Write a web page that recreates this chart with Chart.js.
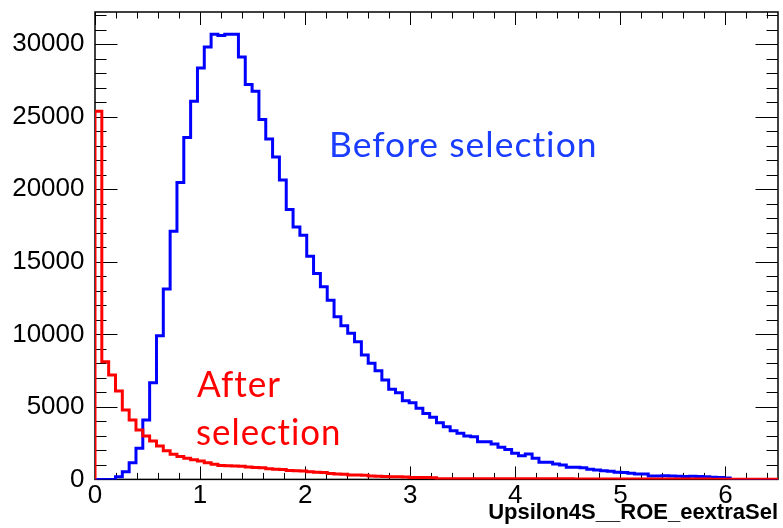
<!DOCTYPE html>
<html><head><meta charset="utf-8">
<script src="https://cdn.jsdelivr.net/npm/chart.js@4/dist/chart.umd.min.js"></script>
<style>html,body{margin:0;padding:0;background:#fff;}canvas{display:block;}</style>
</head><body>
<canvas id="c" width="783" height="528"></canvas>
<script>
// ---- data ----
const binWidth = 0.065;           // 100 bins from 0 to 6.5
const xMax = 6.5;
const yMax = 32225;
const xTickLabels = ['0', '1', '2', '3', '4', '5', '6'];
const yTickLabels = ['0', '5000', '10000', '15000', '20000', '25000', '30000'];
const axisTitle = 'Upsilon4S__ROE_eextraSel';
const labelBefore = 'Before selection';
const labelAfter = ['After', 'selection'];

const beforeSel = [
  0, 0, 0, 190, 530, 1150, 2140, 4090, 6660, 9900,
  13120, 17110, 20470, 23570, 26070, 28370, 29810, 30690, 30600, 30690,
  30690, 29120, 27220, 26760, 24810, 23470, 22230, 20650, 18610, 17410,
  16840, 15390, 14200, 13280, 12360, 11210, 10590, 10070, 9490, 8570,
  8000, 7490, 6850, 6210, 5970, 5420, 5280, 4900, 4550, 4280,
  3910, 3630, 3360, 3180, 2990, 2940, 2600, 2600, 2440, 2210,
  2070, 1800, 1630, 1750, 1450, 1180, 1180, 1060, 990, 830,
  840, 800, 700, 640, 600, 560, 500, 480, 420, 370,
  370, 230, 230, 260, 240, 220, 200, 210, 200, 180,
  150, 130, 90, 0, 0, 0, 0, 0, 0, 0
];
const afterSel = [
  25380, 8110, 7190, 6090, 4780, 4090, 3400, 2990, 2650, 2300,
  1980, 1730, 1580, 1460, 1360, 1260, 1150, 1040, 960, 940,
  920, 900, 850, 820, 800, 730, 700, 680, 620, 600,
  580, 520, 490, 470, 400, 370, 350, 310, 300, 280,
  230, 210, 200, 190, 180, 170, 130, 130, 130, 120,
  50, 50, 50, 50, 50, 50, 50, 50, 50, 50,
  40, 40, 40, 40, 40, 40, 40, 40, 40, 40,
  30, 30, 30, 30, 30, 30, 30, 30, 30, 30,
  20, 20, 20, 20, 20, 20, 20, 20, 20, 20,
  10, 10, 10, 10, 10, 10, 10, 10, 10, 10
];

// histogram outline points: left edge of each bin, closed on both ends
function histPoints(vals) {
  const pts = [{x: 0, y: 0}];
  vals.forEach((v, i) => pts.push({x: i * binWidth, y: v}));
  pts.push({x: vals.length * binWidth, y: vals[vals.length - 1]});
  return pts;
}

const frameTicks = {
  id: 'frameTicks',
  beforeDatasetsDraw(chart) {
    const {ctx, chartArea: a, scales: {x, y}} = chart;
    ctx.save();
    ctx.strokeStyle = '#000';
    ctx.lineWidth = 1;
    ctx.beginPath();
    for (let k = 0; k * 0.2 <= xMax + 1e-9; k++) {
      const px = Math.round(x.getPixelForValue(k * 0.2)) + 0.5;
      const len = (k % 5 === 0) ? 13 : 6.5;
      ctx.moveTo(px, a.bottom); ctx.lineTo(px, a.bottom - len);
      ctx.moveTo(px, a.top); ctx.lineTo(px, a.top + len);
    }
    for (let k = 0; k * 1000 <= yMax; k++) {
      const py = Math.round(y.getPixelForValue(k * 1000)) + 0.5;
      const len = (k % 5 === 0) ? 22.5 : 11.5;
      ctx.moveTo(a.left, py); ctx.lineTo(a.left + len, py);
      ctx.moveTo(a.right, py); ctx.lineTo(a.right - len, py);
    }
    ctx.stroke();
    ctx.lineWidth = 1.5;
    ctx.strokeRect(a.left, a.top, a.right - a.left, a.bottom - a.top);
    ctx.restore();
  },
  afterDraw(chart) {
    const {ctx} = chart;
    function fitText(text, left, baseline, inkWidth, font, color) {
      ctx.save();
      ctx.font = font;
      ctx.fillStyle = color;
      ctx.textBaseline = 'alphabetic';
      ctx.textAlign = 'left';
      if ('letterSpacing' in ctx) ctx.letterSpacing = '1px';
      const m = ctx.measureText(text);
      const w = m.actualBoundingBoxRight + m.actualBoundingBoxLeft;
      const s = inkWidth / w;
      ctx.translate(left + m.actualBoundingBoxLeft * s, baseline);
      ctx.scale(s, 1);
      ctx.fillText(text, 0, 0);
      ctx.restore();
    }
    fitText(labelBefore, 332, 157, 263, '35px Lato', '#1a3dff');
    fitText(labelAfter[0], 197, 396.5, 83, '36px Lato', '#ff0000');
    fitText(labelAfter[1], 197, 445, 141.5, '36px Lato', '#ff0000');
  }
};

new Chart(document.getElementById('c').getContext('2d'), {
  type: 'line',
  data: {
    datasets: [
      {label: 'After selection', data: histPoints(afterSel), borderColor: '#ff0000',
       borderWidth: 3, stepped: 'before', pointRadius: 0, fill: false, order: 0},
      {label: 'Before selection', data: histPoints(beforeSel), borderColor: '#0000ff',
       borderWidth: 3, stepped: 'before', pointRadius: 0, fill: false, order: 1}
    ]
  },
  options: {
    responsive: false,
    animation: false,
    devicePixelRatio: 1,
    layout: {padding: {top: 12, right: 5, left: 0, bottom: 0}},
    plugins: {legend: {display: false}, tooltip: {enabled: false}},
    scales: {
      x: {
        type: 'linear', min: 0, max: xMax,
        grid: {display: false, drawTicks: false},
        border: {display: false},
        afterBuildTicks: s => { s.ticks = xTickLabels.map(t => ({value: Number(t)})); },
        afterFit: s => { s.height = 48.6; s.paddingLeft = 0; s.paddingRight = 0; },
        ticks: {autoSkip: false, maxRotation: 0, padding: 1, color: '#000',
                font: {family: 'Liberation Sans', size: 26},
                callback: v => String(v)},
        title: {display: true, text: axisTitle, align: 'end', color: '#000',
                font: {family: 'Liberation Sans', size: 22, weight: 'bold'},
                padding: {top: 0, bottom: 2}}
      },
      y: {
        type: 'linear', min: 0, max: yMax,
        grid: {display: false, drawTicks: false},
        border: {display: false},
        afterBuildTicks: s => { s.ticks = yTickLabels.map(t => ({value: Number(t)})); },
        afterFit: s => { s.width = 95; s.paddingTop = 0; s.paddingBottom = 0; },
        ticks: {autoSkip: false, padding: 10.5, color: '#000',
                font: {family: 'Liberation Sans', size: 26},
                callback: v => String(v)}
      }
    }
  },
  plugins: [frameTicks]
});
</script>
</body></html>
